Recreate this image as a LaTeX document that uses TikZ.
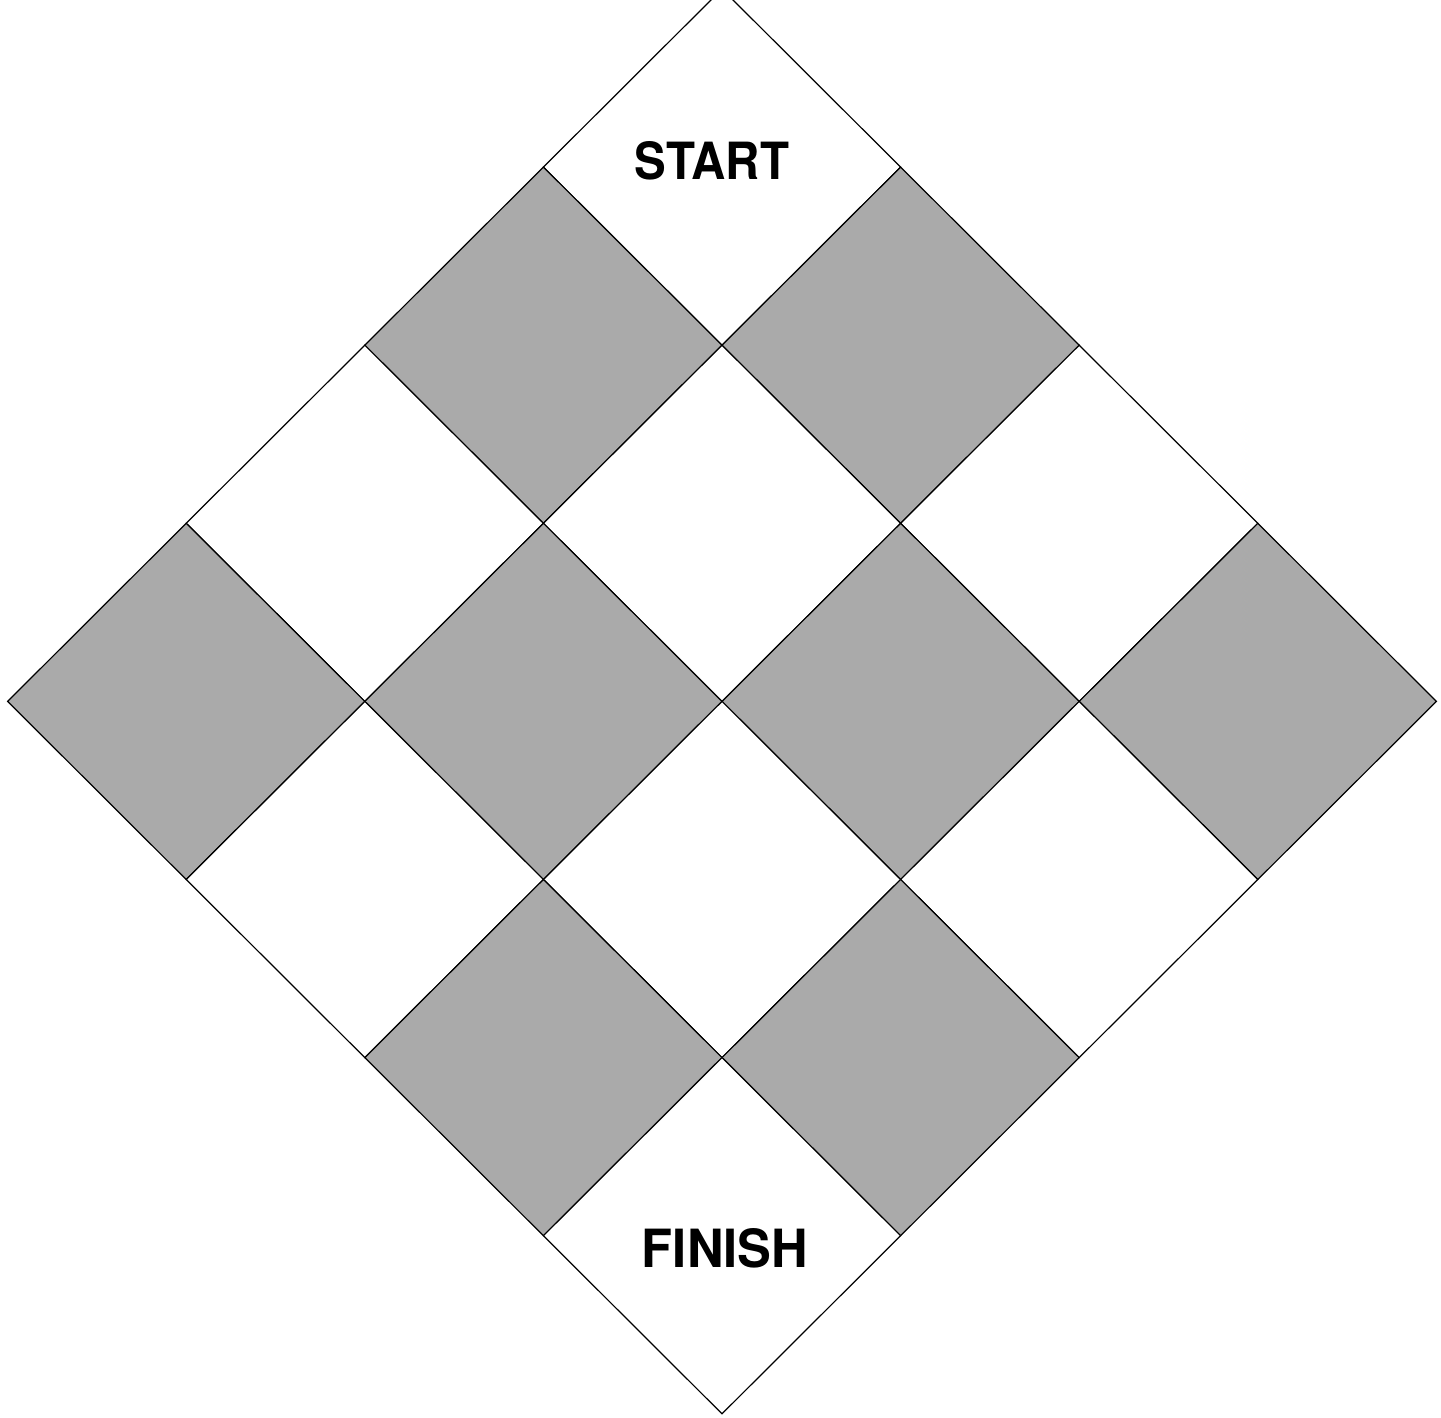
\documentclass[tikz,border=0pt]{standalone}
\usepackage{fontspec}
\setmainfont{TeX Gyre Heros}
\usepackage{graphicx}
\definecolor{cellgray}{RGB}{170,170,170}
\begin{document}
\begin{tikzpicture}[x=1pt,y=-1pt,
  cell/.style={draw=black,line width=1.2pt,line join=miter},
  boardlabel/.style={inner sep=0pt,text=black}]
\useasboundingbox (0,0) rectangle (1441,1418);
\clip (0,0) rectangle (1441,1418);
\fill[white] (0,0) rectangle (1441,1418);
\foreach \i in {0,...,3}{
  \foreach \j in {0,...,3}{
    \pgfmathtruncatemacro\k{mod(\i+\j,2)}
    \ifnum\k=0 \def\fc{white}\else\def\fc{cellgray}\fi
    \filldraw[cell,fill=\fc] ({722+(\i-\j)*178.6},{-11+(\i+\j)*178.1})
      -- ++(178.6,178.1) -- ++(-178.6,178.1) -- ++(-178.6,-178.1) -- cycle;
  }
}
\node[boardlabel] (start) at (712,161) {\resizebox{154pt}{38pt}{\bfseries START}};
\node[boardlabel] (finish) at (725,1248.5) {\resizebox{166pt}{39pt}{\bfseries FINISH}};
\end{tikzpicture}
\end{document}
